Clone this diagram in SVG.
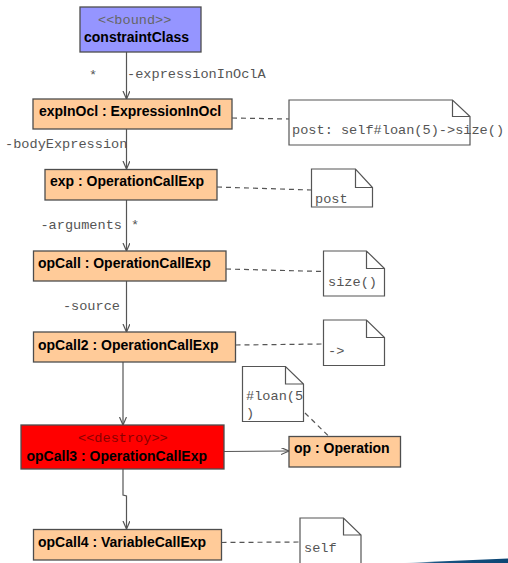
<svg xmlns="http://www.w3.org/2000/svg" width="508" height="563" viewBox="0 0 508 563">
<style>
.box{stroke:#4d4d4d;stroke-width:1.3}
.obj{fill:#ffcb99}
.nm{font-family:"Liberation Sans",Arial,sans-serif;font-weight:bold;font-size:14px;fill:#000}
.mono{font-family:"Liberation Mono","Courier New",monospace;font-size:13.6px;fill:#555}
.note{fill:#fff;stroke:#555;stroke-width:1.2}
.conn{fill:none;stroke:#555;stroke-width:1.2}
.dash{fill:none;stroke:#555;stroke-width:1.2;stroke-dasharray:5,4}
</style>
<defs>
<marker id="arr" markerWidth="10" markerHeight="10" refX="8" refY="3.5" orient="auto" markerUnits="userSpaceOnUse">
<path d="M0,0 L8,3.5 L0,7" fill="none" stroke="#555" stroke-width="1.2"/>
</marker>
<linearGradient id="bl" x1="403" y1="0" x2="508" y2="0" gradientUnits="userSpaceOnUse">
<stop offset="0" stop-color="#ffffff"/>
<stop offset="0.3" stop-color="#1a5583"/>
<stop offset="1" stop-color="#0b4674"/>
</linearGradient>
</defs>

<g id="connectors">
<line class="conn" x1="126.5" y1="52" x2="126.5" y2="99" marker-end="url(#arr)"/>
<line class="conn" x1="126.5" y1="129" x2="126.5" y2="169" marker-end="url(#arr)"/>
<line class="conn" x1="126.5" y1="200" x2="126.5" y2="251" marker-end="url(#arr)"/>
<line class="conn" x1="126.5" y1="281" x2="126.5" y2="332" marker-end="url(#arr)"/>
<line class="conn" x1="123" y1="362" x2="123" y2="425" marker-end="url(#arr)"/>
<line class="conn" x1="224" y1="451.5" x2="289" y2="451" marker-end="url(#arr)"/>
<polyline class="conn" points="123,469 123,495 126.5,496 126.5,529" marker-end="url(#arr)"/>
<line class="dash" x1="232" y1="118" x2="289" y2="119"/>
<line class="dash" x1="217" y1="187" x2="311.5" y2="190"/>
<line class="dash" x1="226" y1="269" x2="323" y2="271.5"/>
<line class="dash" x1="235.5" y1="345" x2="323" y2="344"/>
<line class="dash" x1="305" y1="413" x2="329" y2="436.5"/>
<line class="dash" x1="221.5" y1="542.5" x2="300" y2="542"/>
<text class="mono" x="89" y="79">*</text>
<text class="mono" x="127" y="78">-expressionInOclA</text>
<text class="mono" x="5" y="148">-bodyExpression</text>
<text class="mono" x="122" y="229" text-anchor="end">-arguments</text>
<text class="mono" x="131" y="229">*</text>
<text class="mono" x="120" y="310" text-anchor="end">-source</text>
</g>

<g id="constraintClass">
<rect class="box" x="80" y="7" width="121" height="45" fill="#9595ff"/>
<text class="mono" x="98" y="24" style="fill:#666">&lt;&lt;bound&gt;&gt;</text>
<text class="nm" x="84" y="42">constraintClass</text>
</g>

<g id="expInOcl">
<rect class="box obj" x="33" y="99" width="199" height="30"/>
<text class="nm" x="39" y="116">expInOcl : ExpressionInOcl</text>
</g>

<g id="note1">
<path class="note" d="M289,100 H452.5 L470,116.5 V145 H289 Z M452.5,100 V116.5 H470"/>
<text class="mono" x="292" y="134">post: self#loan(5)-&gt;size()</text>
</g>

<g id="exp">
<rect class="box obj" x="45" y="169.5" width="172" height="30.5"/>
<text class="nm" x="50" y="186">exp : OperationCallExp</text>
</g>

<g id="notePost">
<path class="note" d="M311.5,169 H355.5 L372.5,187.5 V207 H311.5 Z M355.5,169 V187.5 H372.5"/>
<text class="mono" x="315" y="203">post</text>
</g>

<g id="opCall">
<rect class="box obj" x="33.5" y="251" width="192.5" height="30"/>
<text class="nm" x="38" y="267.5">opCall : OperationCallExp</text>
</g>

<g id="noteSize">
<path class="note" d="M323.5,251 H366.5 L384.5,268.5 V296 H323.5 Z M366.5,251 V268.5 H384.5"/>
<text class="mono" x="328" y="286">size()</text>
</g>

<g id="opCall2">
<rect class="box obj" x="33.5" y="332" width="202" height="30"/>
<text class="nm" x="38" y="349.5">opCall2 : OperationCallExp</text>
</g>

<g id="noteArrow">
<path class="note" d="M323.5,320 H366.5 L384.5,337.5 V365.5 H323.5 Z M366.5,320 V337.5 H384.5"/>
<text class="mono" x="328" y="355">-&gt;</text>
</g>

<g id="noteLoan">
<path class="note" d="M242.5,366.5 H285.5 L303.5,384 V421.5 H242.5 Z M285.5,366.5 V384 H303.5"/>
<text class="mono" x="246" y="400">#loan(5</text>
<text class="mono" x="246" y="417">)</text>
</g>

<g id="opCall3">
<rect class="box" x="21" y="425" width="203" height="44" fill="#ff0000"/>
<text class="mono" x="78" y="442" style="fill:#8b0000">&lt;&lt;destroy&gt;&gt;</text>
<text class="nm" x="26.5" y="461">opCall3 : OperationCallExp</text>
</g>

<g id="op">
<rect class="box obj" x="289" y="436.5" width="111.5" height="30.5"/>
<text class="nm" x="294" y="453">op : Operation</text>
</g>

<g id="opCall4">
<rect class="box obj" x="33.5" y="529.5" width="188" height="30.5"/>
<text class="nm" x="38" y="547">opCall4 : VariableCallExp</text>
</g>

<g id="noteSelf">
<path class="note" d="M300,518 H343.5 L361,535 V570 H300 Z M343.5,518 V535 H361"/>
<text class="mono" x="304" y="552">self</text>
</g>

<polygon points="403,563 508,558.5 508,563" fill="url(#bl)"/>
</svg>
